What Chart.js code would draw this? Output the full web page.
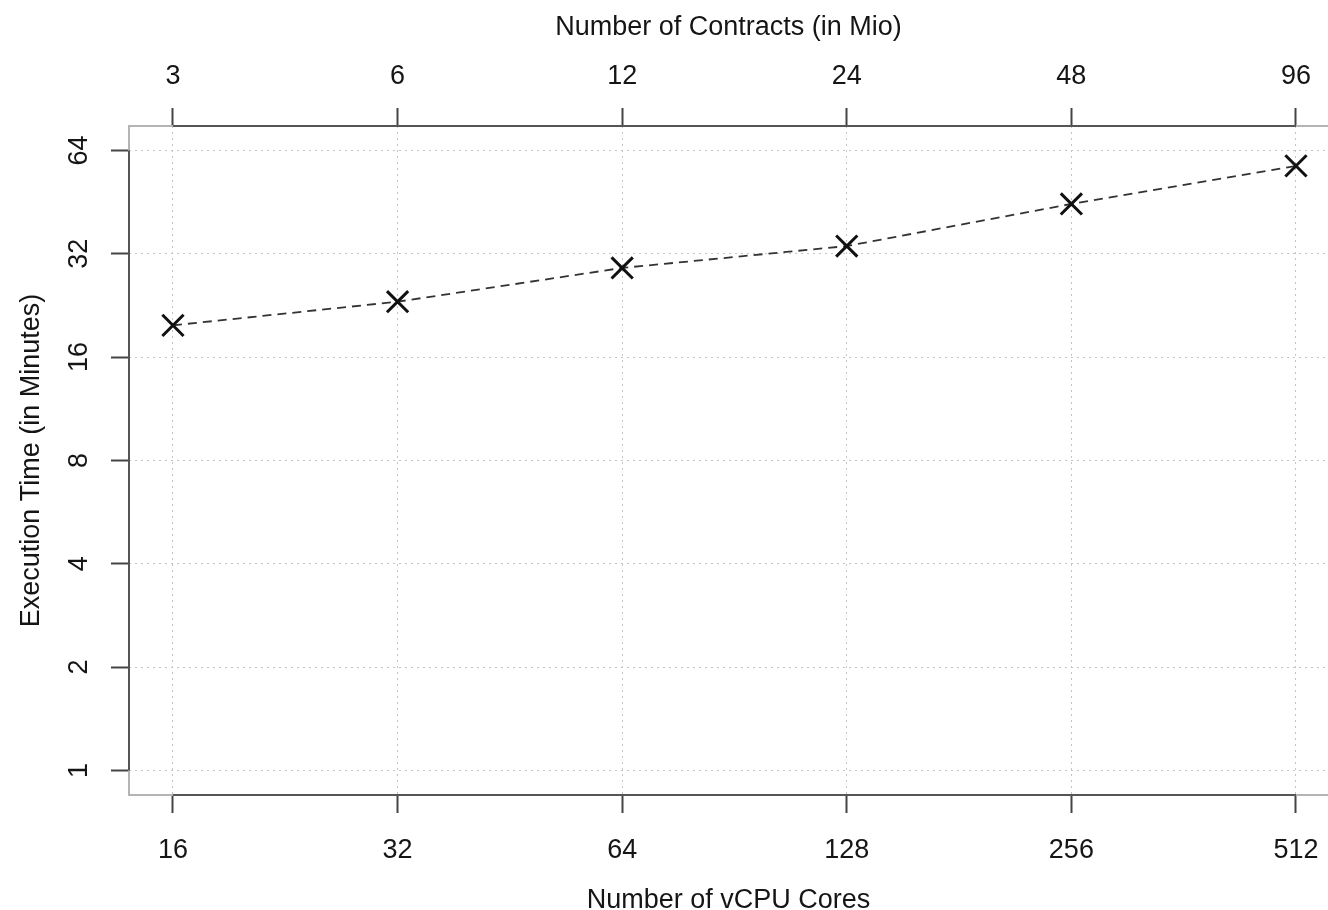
<!DOCTYPE html>
<html>
<head>
<meta charset="utf-8">
<script src="https://cdn.jsdelivr.net/npm/chart.js@4/dist/chart.umd.min.js"></script>
<style>
  html, body { margin: 0; padding: 0; background: #fff; overflow: hidden; }
  #timeChart { display: block; }
</style>
</head>
<body>
<canvas id="timeChart" width="1328" height="910"></canvas>
<script>
    const cores = [16, 32, 64, 128, 256, 512];
    const contracts = [3, 6, 12, 24, 48, 96];
    const execMinutes = [19.8, 23.2, 29.1, 33.7, 44.7, 57.7];
    const yTicks = [1, 2, 4, 8, 16, 32, 64];

    const FONT = 'Liberation Sans, Arial, Helvetica, sans-serif';
    const TEXT = '#151515';
    // axis ranges: the panel runs on past the right edge of the picture
    const xMin = 13.97, xMax = 565.2;
    const yMin = 0.848, yMax = 75.4;

    // keep the plot panel where it is: no extra room for edge labels
    function noPad(s) {
      s.paddingLeft = 0; s.paddingRight = 0; s.paddingTop = 0; s.paddingBottom = 0;
    }

    // lattice-like box: light frame, darker axis between first and last tick
    const latticeBox = {
      id: 'latticeBox',
      afterDraw(chart) {
        const { ctx, chartArea: a, scales } = chart;
        ctx.save();
        ctx.lineWidth = 2;
        ctx.strokeStyle = '#b4b4b4';
        ctx.beginPath();
        ctx.moveTo(a.right + 2, a.top);
        ctx.lineTo(a.left, a.top);
        ctx.lineTo(a.left, a.bottom);
        ctx.lineTo(a.right + 2, a.bottom);
        ctx.stroke();
        ctx.strokeStyle = '#555';
        const x0 = scales.x.getPixelForValue(cores[0]);
        const x1 = scales.x.getPixelForValue(cores[cores.length - 1]);
        const y0 = scales.y.getPixelForValue(yTicks[0]);
        const y1 = scales.y.getPixelForValue(yTicks[yTicks.length - 1]);
        ctx.beginPath();
        ctx.moveTo(x0, a.bottom); ctx.lineTo(x1, a.bottom);
        ctx.moveTo(x0, a.top); ctx.lineTo(x1, a.top);
        ctx.moveTo(a.left, y0); ctx.lineTo(a.left, y1);
        ctx.stroke();
        ctx.restore();
      }
    };

    const ctx = document.getElementById('timeChart').getContext('2d');
    const chart = new Chart(ctx, {
      type: 'line',
      data: {
        datasets: [{
          label: 'Execution Time',
          data: cores.map((c, i) => ({ x: c, y: execMinutes[i] })),
          borderColor: '#333',
          borderWidth: 1.8,
          borderDash: [9, 6],
          fill: false,
          tension: 0,
          clip: false,
          pointStyle: 'crossRot',
          pointRadius: 15,
          pointBorderWidth: 3,
          pointBorderColor: '#111',
          pointBackgroundColor: '#111',
          xAxisID: 'x',
          yAxisID: 'y'
        }]
      },
      options: {
        responsive: false,
        animation: false,
        layout: { padding: 0, autoPadding: false },
        plugins: { legend: { display: false }, tooltip: { enabled: false } },
        scales: {
          x: {
            type: 'logarithmic',
            position: 'bottom',
            min: xMin, max: xMax, bounds: 'data',
            afterBuildTicks: s => { s.ticks = cores.map(v => ({ value: v })); },
            afterFit: s => { s.height = 115; noPad(s); },
            border: { display: false, dash: [2, 4] },
            grid: { color: '#c4c4c4', lineWidth: 1, tickLength: 18, tickColor: '#444', tickWidth: 2, tickBorderDash: [] },
            ticks: {
              autoSkip: false, maxRotation: 0, padding: 21,
              color: TEXT, font: { family: FONT, size: 27 },
              callback: (v, i) => String(cores[i])
            },
            title: {
              display: true, text: 'Number of vCPU Cores', color: TEXT,
              font: { family: FONT, size: 27, lineHeight: 1 }, padding: { top: 0, bottom: -4 }
            }
          },
          x2: {
            type: 'logarithmic',
            position: 'top',
            min: xMin, max: xMax, bounds: 'data',
            afterBuildTicks: s => { s.ticks = cores.map(v => ({ value: v })); },
            afterFit: s => { s.height = 126; noPad(s); },
            border: { display: false },
            grid: { drawOnChartArea: false, tickLength: 18, tickColor: '#444', tickWidth: 2 },
            ticks: {
              autoSkip: false, maxRotation: 0, padding: 15,
              color: TEXT, font: { family: FONT, size: 27 },
              callback: (v, i) => String(contracts[i])
            },
            title: {
              display: true, text: 'Number of Contracts (in Mio)', color: TEXT,
              font: { family: FONT, size: 27, lineHeight: 1 }, padding: { top: 14, bottom: 0 }
            }
          },
          y: {
            type: 'logarithmic',
            position: 'left',
            min: yMin, max: yMax, bounds: 'data',
            afterBuildTicks: s => { s.ticks = yTicks.map(v => ({ value: v })); },
            afterFit: s => { s.width = 129; noPad(s); },
            border: { display: false, dash: [2, 4] },
            grid: { color: '#c4c4c4', lineWidth: 1, tickLength: 18, tickColor: '#444', tickWidth: 2, tickBorderDash: [] },
            ticks: {
              autoSkip: false, minRotation: 90, maxRotation: 90, crossAlign: 'center', padding: 16,
              color: TEXT, font: { family: FONT, size: 27 },
              callback: (v, i) => String(yTicks[i])
            },
            title: {
              display: true, text: 'Execution Time (in Minutes)', color: TEXT,
              font: { family: FONT, size: 27, lineHeight: 1 }, padding: { top: 18, bottom: 0 }
            }
          }
        }
      },
      plugins: [latticeBox]
    });
</script>
</body>
</html>
